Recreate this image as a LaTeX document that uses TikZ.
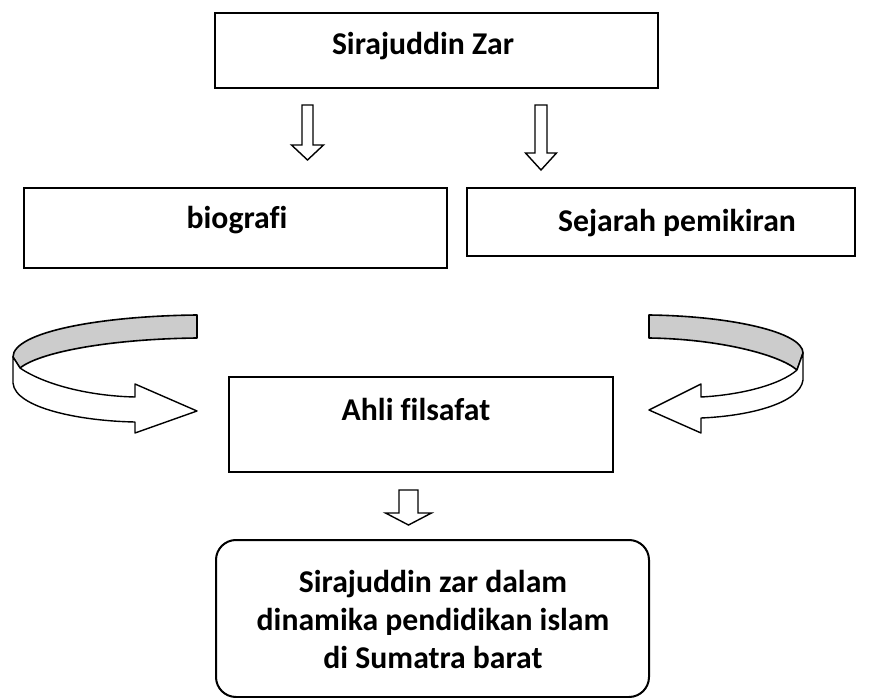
\documentclass[tikz,border=0pt]{standalone}
\usepackage{fontspec}
\setmainfont{Carlito}[Ligatures=NoCommon]
\usetikzlibrary{positioning}

\tikzset{
  box/.style={draw, line width=2pt, rectangle, inner sep=0pt},
  lbl/.style={anchor=base, font=\fontsize{31.7}{38}\selectfont\bfseries, inner sep=0pt},
  hollow/.style={draw, line width=1.4pt, fill=white, line join=miter},
  band/.style={draw, line width=1.6pt, fill=black!20, line join=round},
}

% hollow block arrow pointing down: centre x, top, head y, tip y, shaft half, head half
\newcommand{\downblock}[6]{%
  \draw[hollow] ({#1-#5},#2) -- ({#1+#5},#2) -- ({#1+#5},#3) -- ({#1+#6},#3)
    -- (#1,#4) -- ({#1-#6},#3) -- ({#1-#5},#3) -- cycle;}

\begin{document}
\begin{tikzpicture}[x=1pt,y=-1pt]
\useasboundingbox (0,0) rectangle (879,698);

% boxes
\node[box, minimum width=443pt, minimum height=75pt] (zar) at (436.5,50.5) {};
\node[box, minimum width=423pt, minimum height=80pt] (bio) at (235.5,228) {};
\node[box, minimum width=388pt, minimum height=68pt] (sej) at (661,222) {};
\node[box, minimum width=384pt, minimum height=95pt] (ahli) at (421,424.5) {};
\node[box, rounded corners=20pt, minimum width=433pt, minimum height=157pt] (dyn) at (432.5,618.5) {};

% texts
\node[lbl] (tzar) at (423,55) {Sirajuddin Zar};
\node[lbl] (tbio) at (237,229) {biografi};
\node[lbl] (tsej) at (677,232) {Sejarah pemikiran};
\node[lbl] (tahli) at (416,420) {Ahli filsafat};
\node[lbl] (tdyn1) at (433,592) {Sirajuddin zar dalam};
\node[lbl] (tdyn2) at (433,630) {dinamika pendidikan islam};
\node[lbl] (tdyn3) at (433,668) {di Sumatra barat};

% down arrows
\downblock{307.5}{105}{145}{160}{5.5}{16}
\downblock{541}{105}{153}{170}{6}{15.5}
\downblock{408.5}{490}{513}{525}{9.5}{23}

% left ribbon arrow
\draw[band] (197,315) .. controls (100,316) and (13,332) .. (13,357)
  -- (20,368) .. controls (40,352) and (110,339) .. (197,338) -- cycle;
\draw[hollow, line join=round] (13,357) -- (13,383) .. controls (15,408) and (80,421) .. (135,422)
  -- (135,433) -- (197,411) -- (135,384) -- (135,397)
  .. controls (90,396) and (45,385) .. (20,368) -- cycle;

% right ribbon arrow
\draw[band] (649,315) .. controls (730,316) and (803,332) .. (803,353)
  -- (797,370) .. controls (780,355) and (720,339) .. (649,338) -- cycle;
\draw[hollow, line join=round] (803,353) -- (803,380) .. controls (800,403) and (750,416) .. (701,418)
  -- (701,433) -- (649,410) -- (701,384) -- (701,397)
  .. controls (740,395) and (780,385) .. (797,370) -- cycle;
\end{tikzpicture}
\end{document}
